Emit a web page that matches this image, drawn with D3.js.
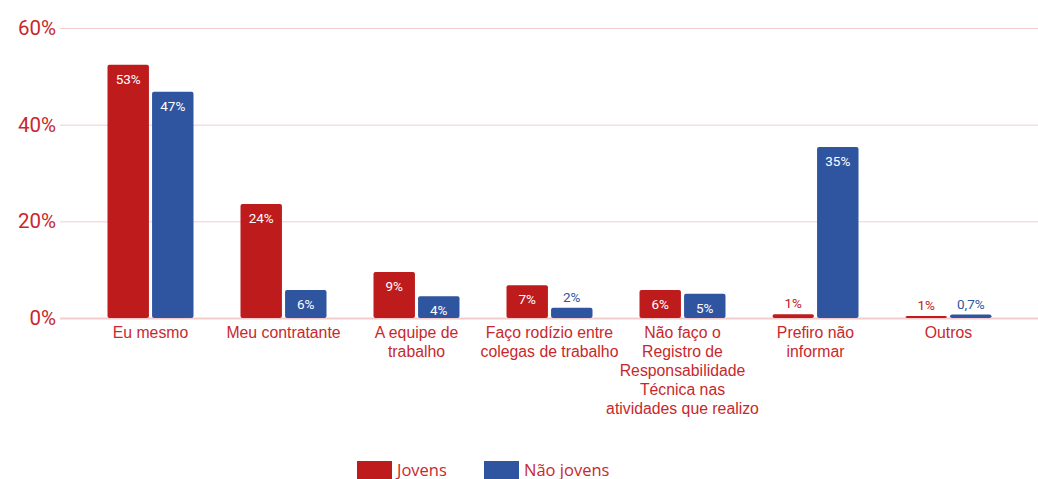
<!DOCTYPE html>
<html>
<head>
<meta charset="utf-8">
<script src="https://cdn.jsdelivr.net/npm/d3@7"></script>
<style>
body{margin:0;background:#fff;}
svg{display:block;font-family:Roboto,"Liberation Sans",Arial,sans-serif;}
</style>
</head>
<body>
<svg width="1038" height="479"></svg>
<script>
// dados
var categorias = [
  ["Eu mesmo"],
  ["Meu contratante"],
  ["A equipe de","trabalho"],
  ["Faço rodízio entre","colegas de trabalho"],
  ["Não faço o","Registro de","Responsabilidade","Técnica nas","atividades que realizo"],
  ["Prefiro não","informar"],
  ["Outros"]
];
var series = ["Jovens","Não jovens"];
var jovens = [52.4, 23.6, 9.5, 6.8, 5.8, 0.8, 0.4];
var naoJovens = [46.8, 5.8, 4.5, 2.1, 5.0, 35.4, 0.7];
var rotulosJovens = ["53%","24%","9%","7%","6%","1%","1%"];
var rotulosNaoJovens = ["47%","6%","4%","2%","5%","35%","0,7%"];
var ticks = [0,20,40,60];

var cores = ["#be1b1d","#2f55a0"];
var corTexto = "#c8282c";

var svg = d3.select('svg');
var y = d3.scaleLinear().domain([0,60]).range([318,28]);
var x0 = d3.scaleBand().domain(d3.range(categorias.length)).range([84,1015]);
var x1 = d3.scaleBand().domain([0,1]).range([-43,43]).paddingInner(0.07);

// grade
svg.append('g').selectAll('line').data(ticks).enter().append('line')
  .attr('x1',60).attr('x2',1038)
  .attr('y1',function(d){return y(d)+0.5;}).attr('y2',function(d){return y(d)+0.5;})
  .attr('stroke','#f3cccd').attr('stroke-width',function(d){return d==0?2:1;});

svg.append('g').selectAll('text').data(ticks).enter().append('text')
  .attr('x',56).attr('y',function(d){return y(d)+7;})
  .attr('text-anchor','end').attr('font-size',20.5).attr('fill',corTexto)
  .text(function(d){return d+'%';});

var dados = [];
categorias.forEach(function(c,i){
  dados.push({c:i,s:0,v:jovens[i],t:rotulosJovens[i]});
  dados.push({c:i,s:1,v:naoJovens[i],t:rotulosNaoJovens[i]});
});

function bx(d){return x0(d.c)+x0.bandwidth()/2+x1(d.s);}

svg.append('g').selectAll('rect').data(dados).enter().append('rect')
  .attr('x',bx).attr('y',function(d){return y(d.v);})
  .attr('width',x1.bandwidth())
  .attr('height',function(d){return y(0)-y(d.v);})
  .attr('rx',2).attr('fill',function(d){return cores[d.s];});

svg.append('g').selectAll('text').data(dados).enter().append('text')
  .attr('x',function(d){return bx(d)+x1.bandwidth()/2;})
  .attr('y',function(d){
    var h = y(0)-y(d.v);
    return h>20 ? y(d.v)+19 : y(d.v)-6;
  })
  .attr('text-anchor','middle').attr('font-size',13.5)
  .attr('fill',function(d){return (y(0)-y(d.v))>20 ? '#fff' : cores[d.s];})
  .text(function(d){return d.t;});

// rotulos do eixo x
var gx = svg.append('g').selectAll('text').data(categorias).enter().append('text')
  .attr('text-anchor','middle').attr('font-size',15.8).attr('fill',corTexto)
  .attr('font-family','"Liberation Sans",Arial,sans-serif')
  .attr('transform',function(d,i){return 'translate('+(x0(i)+x0.bandwidth()/2)+',338)';});
gx.selectAll('tspan').data(function(d){return d;}).enter().append('tspan')
  .attr('x',0).attr('y',function(d,i){return i*19;}).text(function(d){return d;});

// legenda
var leg = svg.append('g').selectAll('g').data(series).enter().append('g')
  .attr('transform',function(d,i){return 'translate('+(357+i*127)+',461)';});
leg.append('rect').attr('width',35).attr('height',18).attr('fill',function(d,i){return cores[i];});
leg.append('text').attr('x',40).attr('y',14.5).attr('font-size',16.5)
  .attr('font-family','"Open Sans",sans-serif').attr('fill',corTexto).text(function(d){return d;});
</script>
</body>
</html>
